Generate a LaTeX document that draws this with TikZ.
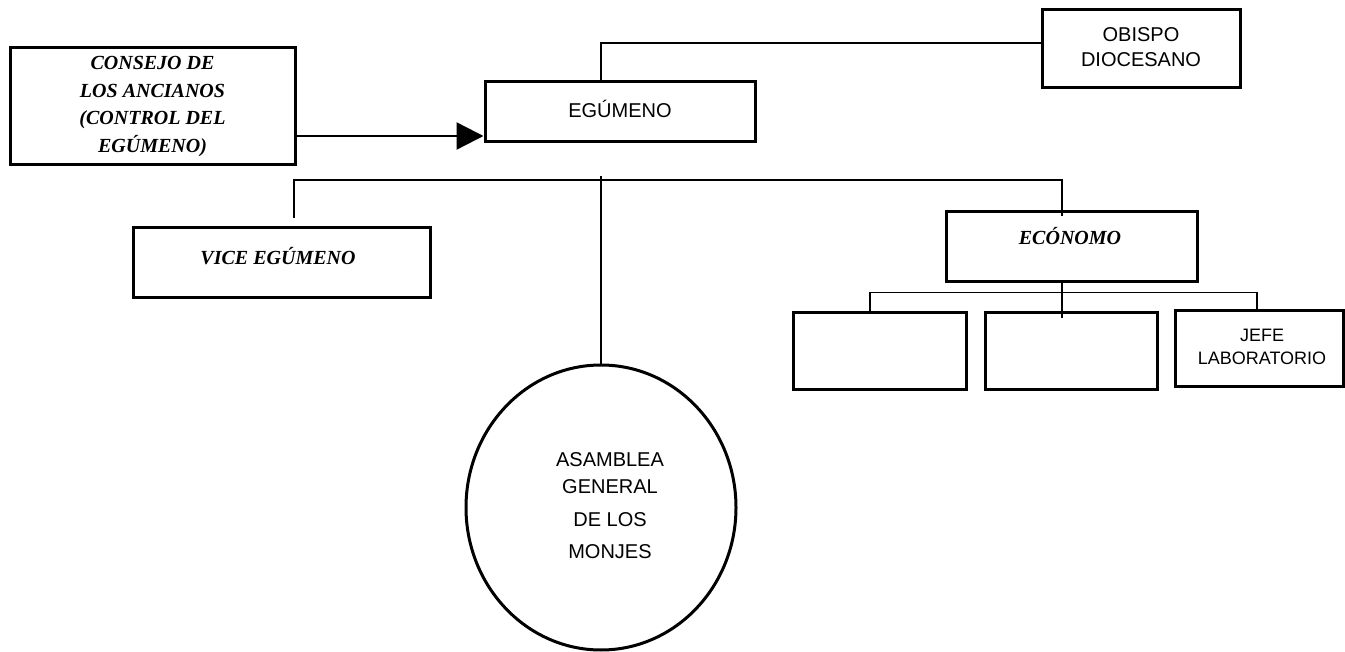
\documentclass[tikz,border=0pt]{standalone}
\usepackage{fontspec}
\setmainfont{Liberation Serif}
\setsansfont{Liberation Sans}
\usetikzlibrary{arrows.meta,shapes.geometric}
\begin{document}
\begin{tikzpicture}[x=1pt,y=-1pt,
  box/.style={draw,line width=3pt,rectangle,inner sep=0pt},
  conn/.style={line width=1.6pt},
  serifbi/.style={font=\fontsize{20}{27.7}\selectfont\bfseries\itshape,align=center,inner sep=0pt},
  sanstext/.style={font=\sffamily\fontsize{20}{25}\selectfont,align=center,inner sep=0pt}
]
\useasboundingbox (0,0) rectangle (1345,652);
\fill[white] (0,0) rectangle (1345,652);

% boxes
\node[box,minimum width=285pt,minimum height=117pt] (consejo)  at (152.5,106.5) {};
\node[box,minimum width=270pt,minimum height=60pt]  (egumeno)  at (620,112) {};
\node[box,minimum width=198pt,minimum height=78pt]  (obispo)   at (1141,49) {};
\node[box,minimum width=297pt,minimum height=70pt]  (vice)     at (281.5,263) {};
\node[box,minimum width=251pt,minimum height=70pt]  (economo)  at (1071.5,247) {};
\node[box,minimum width=173pt,minimum height=77pt]  (sub1)     at (879.5,351.5) {};
\node[box,minimum width=172pt,minimum height=77pt]  (sub2)     at (1071,351.5) {};
\node[box,minimum width=168pt,minimum height=76pt]  (jefe)     at (1259,349) {};
\node[draw,ellipse,line width=3pt,inner sep=0pt,minimum width=270pt,minimum height=285pt] (asamblea) at (601,507.5) {};

% labels
\node[serifbi] (consejo-t) at (152.5,106.5) {CONSEJO DE\\LOS ANCIANOS\\(CONTROL DEL\\EGÚMENO)};
\node[sanstext] (egumeno-t) at (620,109) {EGÚMENO};
\node[sanstext] (obispo-t) at (1141,47.5) {OBISPO\\DIOCESANO};
\node[serifbi] (vice-t) at (278,256) {VICE EGÚMENO};
\node[serifbi] (economo-t) at (1070,236) {ECÓNOMO};
\node[sanstext,font=\sffamily\fontsize{18}{23}\selectfont] (jefe-t) at (1262,346.5) {JEFE\\LABORATORIO};
\node[sanstext,font=\sffamily\fontsize{20}{27}\selectfont] (asamblea-t) at (610,506) {ASAMBLEA\\GENERAL\\[6pt]DE LOS\\[5pt]MONJES};

% connectors
\draw[line width=2.4pt,-{Triangle[length=27pt,width=27pt]}]
  ([yshift=-29.5pt]consejo.east) -- ([yshift=-24pt]egumeno.west);
\draw[conn] ([xshift=-19pt]egumeno.north) |- ([yshift=6pt]obispo.west);

\coordinate (busR) at (1062,180);
\coordinate (viceTop) at (294,218);
\draw[conn] (viceTop) |- (busR) -- ([yshift=-6pt]busR |- economo.north);
\draw[conn] (asamblea.north |- 0,176) -- ([yshift=-3pt]asamblea.north);

\draw[conn] (busR |- economo.south) -- ([yshift=-7pt]busR |- sub2.north);
\draw[conn] ([xshift=-9.5pt]sub1.north) |- ([xshift=-2pt,yshift=17pt]jefe.north) -- ([xshift=-2pt]jefe.north);
\end{tikzpicture}
\end{document}
